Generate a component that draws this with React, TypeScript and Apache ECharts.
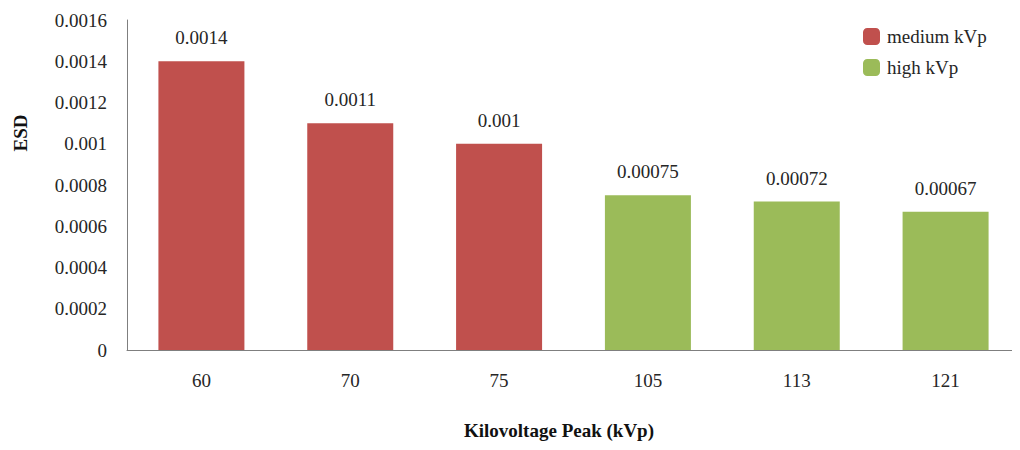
import React, { useEffect, useRef } from "react";
import * as echarts from "echarts";

const categories = ["60", "70", "75", "105", "113", "121"];
const mediumValues: (number | string)[] = [0.0014, 0.0011, 0.001, "-", "-", "-"];
const highValues: (number | string)[] = ["-", "-", "-", 0.00075, 0.00072, 0.00067];
const seriesNames = ["medium kVp", "high kVp"];
const yTicks = { min: 0, max: 0.0016, interval: 0.0002 };

const FONT = "Liberation Serif";
const FS = 19;
const TXT = "#262626";

export default function App() {
  const ref = useRef<HTMLDivElement>(null);
  useEffect(() => {
    const chart = echarts.init(ref.current!, undefined, { renderer: "svg" });
    const fmt = (v: number) => (v === 0 ? "0" : String(+v.toFixed(5)));
    const label = {
      show: true,
      position: "top",
      distance: 14,
      fontFamily: FONT,
      fontSize: FS,
      color: TXT,
      formatter: (p: any) => fmt(p.value),
    };
    chart.setOption({
      animation: false,
      backgroundColor: "#ffffff",
      textStyle: { fontFamily: FONT },
      grid: { left: 127, top: 20, bottom: 100, right: -13, containLabel: false },
      legend: {
        orient: "vertical",
        left: 858,
        top: 22,
        itemWidth: 17,
        itemHeight: 17,
        itemGap: 12,
        icon: "roundRect",
        textStyle: { fontFamily: FONT, fontSize: FS, color: TXT, padding: [0, 0, 0, 2] },
        data: seriesNames,
      },
      xAxis: {
        type: "category",
        data: categories,
        axisLine: { lineStyle: { color: "#7f7f7f", width: 1 } },
        axisTick: { show: false },
        axisLabel: { fontFamily: FONT, fontSize: FS, color: TXT, margin: 21 },
      },
      yAxis: {
        type: "value",
        min: yTicks.min,
        max: yTicks.max,
        interval: yTicks.interval,
        axisLine: { show: true, lineStyle: { color: "#7f7f7f", width: 1 } },
        axisTick: { show: false },
        splitLine: { show: false },
        axisLabel: {
          fontFamily: FONT,
          fontSize: FS,
          color: TXT,
          margin: 20,
          formatter: (v: number) => fmt(v),
        },
      },
      graphic: [
        {
          type: "text",
          x: 20,
          y: 133,
          rotation: Math.PI / 2,
          style: {
            text: "ESD",
            fontFamily: FONT,
            fontSize: 19,
            fontWeight: "bold",
            fill: "#111",
            align: "center",
            verticalAlign: "middle",
          },
        },
        {
          type: "text",
          x: 559,
          y: 430,
          style: {
            text: "Kilovoltage Peak (kVp)",
            fontFamily: FONT,
            fontSize: 19,
            fontWeight: "bold",
            fill: "#111",
            align: "center",
            verticalAlign: "middle",
          },
        },
      ],
      series: [
        {
          name: seriesNames[0],
          type: "bar",
          data: mediumValues,
          barWidth: 86,
          barGap: "-100%",
          itemStyle: { color: "#C0504D" },
          label,
        },
        {
          name: seriesNames[1],
          type: "bar",
          data: highValues,
          barWidth: 86,
          barGap: "-100%",
          itemStyle: { color: "#9BBB59" },
          label,
        },
      ],
    });
    return () => chart.dispose();
  }, []);
  return <div ref={ref} style={{ width: 1020, height: 450, margin: -8 }} />;
}
